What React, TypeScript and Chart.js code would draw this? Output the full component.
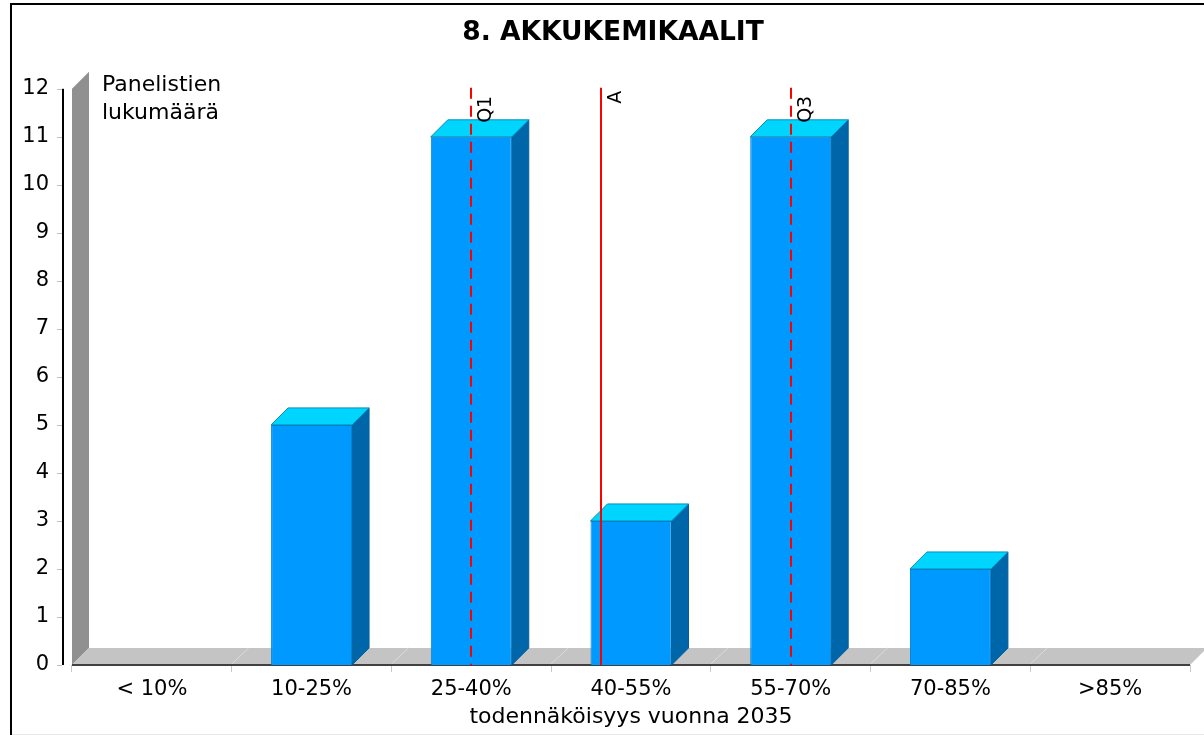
import React, { useEffect, useRef } from "react";
import { Chart, registerables } from "chart.js";

Chart.register(...registerables);

const categories = ["< 10%", "10-25%", "25-40%", "40-55%", "55-70%", "70-85%", ">85%"];
const panelists = [0, 5, 11, 3, 11, 2, 0];
const yTicks = [0, 1, 2, 3, 4, 5, 6, 7, 8, 9, 10, 11, 12];
const refLabels = ["Q1", "A", "Q3"];
const refPositions = [2.0, 2.81, 4.0];
const refDashed = [true, false, true];
const chartTitle = "8. AKKUKEMIKAALIT";
const xTitle = "todennäköisyys vuonna 2035";
const yTitleLines = ["Panelistien", "lukumäärä"];

const FONT = '"DejaVu Sans"';
const DX = 17;
const DY = 17;

const poly = (ctx: CanvasRenderingContext2D, pts: number[][], fill: string, stroke?: string) => {
  ctx.beginPath();
  pts.forEach(([x, y], i) => (i ? ctx.lineTo(x, y) : ctx.moveTo(x, y)));
  ctx.closePath();
  ctx.fillStyle = fill;
  ctx.fill();
  if (stroke) {
    ctx.strokeStyle = stroke;
    ctx.lineWidth = 1;
    ctx.stroke();
  }
};

const decor = {
  id: "decor",
  afterLayout(chart: any) {
    chart.scales.y.left = 0;
  },
  beforeDraw(chart: any) {
    const { ctx, width, height } = chart;
    ctx.save();
    ctx.fillStyle = "#ffffff";
    ctx.fillRect(0, 0, width, height);
    ctx.fillStyle = "#000000";
    ctx.fillRect(10, 3, 2, height - 3);
    ctx.fillRect(10, 3, width - 10, 2);
    ctx.fillStyle = "#e8e8e8";
    ctx.fillRect(12, height - 1, width - 12, 1);
    ctx.restore();
  },
  beforeDatasetsDraw(chart: any) {
    const { ctx, chartArea: a, scales } = chart;
    const y = scales.y;
    ctx.save();
    poly(ctx, [[a.left, a.bottom], [a.left + DX, a.bottom - DY], [a.left + DX, a.top - DY], [a.left, a.top]], "#909090");
    poly(ctx, [[a.left, a.bottom], [a.left + DX, a.bottom - DY], [a.right + DX, a.bottom - DY], [a.right, a.bottom]], "#c4c4c4");
    ctx.strokeStyle = "#dcdcdc";
    ctx.lineWidth = 1;
    for (let i = 1; i < categories.length; i++) {
      const px = a.left + ((a.right - a.left) * i) / categories.length;
      ctx.beginPath();
      ctx.moveTo(px, a.bottom - 1);
      ctx.lineTo(px + DX, a.bottom - DY);
      ctx.stroke();
    }
    ctx.fillStyle = "#404040";
    ctx.fillRect(a.left, a.bottom - 1, a.right - a.left, 2);
    ctx.fillStyle = "#000000";
    ctx.fillRect(a.left - 10, a.top, 2, a.bottom - a.top);
    ctx.fillStyle = "#c0c0c0";
    yTicks.forEach((t) => {
      ctx.fillRect(a.left - 15, Math.round(y.getPixelForValue(t)), 5, 1);
    });
    const meta = chart.getDatasetMeta(0);
    meta.data.forEach((bar: any, i: number) => {
      if (!panelists[i]) return;
      const l = bar.x - bar.width / 2;
      const r = bar.x + bar.width / 2;
      const top = bar.y;
      const bottom = bar.base;
      poly(ctx, [[r, bottom], [r + DX, bottom - DY], [r + DX, top - DY], [r, top]], "#0066aa", "#005f9e");
      poly(ctx, [[l, top], [l + DX, top - DY], [r + DX, top - DY], [r, top]], "#00d5ff", "#0090b8");
    });
    ctx.restore();
  },
  afterDatasetsDraw(chart: any) {
    const { ctx, chartArea: a, scales } = chart;
    ctx.save();
    refPositions.forEach((v, i) => {
      const px = Math.round(scales.x.getPixelForValue(v));
      ctx.beginPath();
      ctx.strokeStyle = "#ff0000";
      ctx.lineWidth = 2;
      ctx.setLineDash(refDashed[i] ? [11, 7] : []);
      ctx.moveTo(px, a.top - 1);
      ctx.lineTo(px, a.bottom);
      ctx.stroke();
      ctx.setLineDash([]);
      ctx.save();
      ctx.translate(px + 15, a.top + (refDashed[i] ? 7 : 2));
      ctx.rotate(-Math.PI / 2);
      ctx.fillStyle = "#000000";
      ctx.font = `19px ${FONT}`;
      ctx.textAlign = "right";
      ctx.textBaseline = "middle";
      ctx.fillText(refLabels[i], 0, 0);
      ctx.restore();
    });
    ctx.fillStyle = "#000000";
    ctx.font = `22px ${FONT}`;
    ctx.textAlign = "left";
    ctx.textBaseline = "middle";
    yTitleLines.forEach((line, i) => {
      ctx.fillText(line, 102, 85 + i * 28);
    });
    ctx.restore();
  },
};

export default function App() {
  const ref = useRef<HTMLCanvasElement>(null);
  useEffect(() => {
    document.body.style.margin = "0";
    const chart = new Chart(ref.current!, {
      type: "bar",
      data: {
        labels: categories,
        datasets: [
          {
            data: panelists,
            backgroundColor: "#0099ff",
            borderColor: "#0080c8",
            borderWidth: 1,
            barPercentage: 0.507,
            categoryPercentage: 1,
          },
        ],
      },
      options: {
        animation: false,
        responsive: false,
        layout: { padding: { left: 36, right: 14, top: 0, bottom: 0 } },
        plugins: {
          legend: { display: false },
          tooltip: { enabled: false },
          title: {
            display: true,
            text: chartTitle,
            color: "#000000",
            font: { family: FONT, size: 26.5, weight: "bold" },
            padding: { top: 17, bottom: 40 },
          },
        },
        scales: {
          x: {
            offset: true,
            afterFit: (s: any) => {
              s.height = 70;
            },
            grid: { drawOnChartArea: false, offset: true, tickLength: 7, tickColor: "#c8c8c8" },
            border: { display: false },
            ticks: { color: "#000000", font: { family: FONT, size: 21 }, padding: 5, maxRotation: 0 },
            title: { display: true, text: xTitle, color: "#000000", font: { family: FONT, size: 22 }, padding: { top: 0, bottom: 5 } },
          },
          y: {
            min: 0,
            max: 12,
            afterFit: (s: any) => {
              s.width = 36;
            },
            grid: { display: false, drawTicks: false },
            border: { display: false },
            ticks: { stepSize: 1, color: "#000000", font: { family: FONT, size: 21 }, padding: 23 },
          },
        },
      },
      plugins: [decor],
    } as any);
    return () => chart.destroy();
  }, []);
  return <canvas ref={ref} width={1204} height={735} style={{ display: "block" }} />;
}
